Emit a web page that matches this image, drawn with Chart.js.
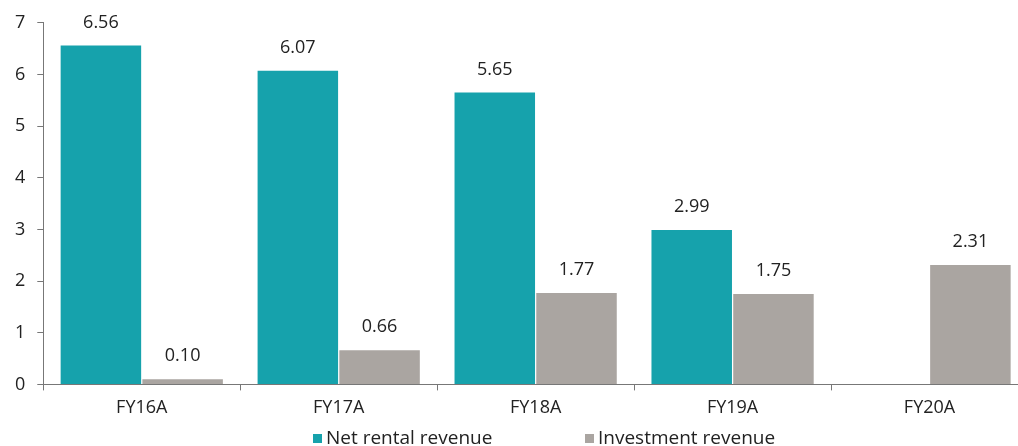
<!DOCTYPE html>
<html><head><meta charset="utf-8">
<script src="https://cdn.jsdelivr.net/npm/chart.js@4.4.0/dist/chart.umd.min.js"></script>
<style>html,body{margin:0;padding:0;background:#fff}#w{width:1018px;height:446px}</style>
</head><body><div id="w"><canvas id="c"></canvas></div>
<script>
const categories = ["FY16A","FY17A","FY18A","FY19A","FY20A"];
const seriesNames = ["Net rental revenue", "Investment revenue"];
const netRental = [6.56, 6.07, 5.65, 2.99, null];
const investment = [0.10, 0.66, 1.77, 1.75, 2.31];
const yTicks = [0,1,2,3,4,5,6,7];
const colors = ["#16A2AC", "#AAA5A1"];

const FONT = "'Open Sans', sans-serif";
const labelPlugin = {
  id: 'vals',
  afterDatasetsDraw(chart) {
    const ctx = chart.ctx;
    ctx.save();
    ctx.font = "18px " + FONT;
    ctx.fillStyle = "#222";
    ctx.textAlign = "center";
    ctx.textBaseline = "middle";
    chart.data.datasets.forEach((ds, i) => {
      chart.getDatasetMeta(i).data.forEach((bar, j) => {
        const v = ds.data[j];
        if (v === null || v === undefined) return;
        ctx.fillText(v.toFixed(2), bar.x, bar.y - 23);
      });
    });
    ctx.restore();
  }
};
const legendPlugin = {
  id: 'customLegend',
  afterDraw(chart) {
    const ctx = chart.ctx;
    const items = [{bx: 313, tx: 326}, {bx: 585, tx: 598}];
    ctx.save();
    ctx.font = "19px " + FONT;
    ctx.textBaseline = "middle";
    ctx.textAlign = "left";
    chart.data.datasets.forEach((ds, i) => {
      ctx.fillStyle = ds.backgroundColor;
      ctx.fillRect(items[i].bx, 434, 9, 9);
      ctx.fillStyle = "#222";
      ctx.fillText(ds.label, items[i].tx, 439);
    });
    ctx.restore();
  }
};
// The plot area of the original runs past the right edge of the picture (cropped).
const extendPlugin = {
  id: 'extendRight',
  afterLayout(chart) {
    const x = chart.scales.x;
    const target = 1028;
    const extra = target - x.right;
    x.right += extra; x.width += extra;
    chart.chartArea.right += extra; chart.chartArea.width += extra;
    x.configure();
  }
};

new Chart(document.getElementById('c'), {
  type: 'bar',
  data: {
    labels: categories,
    datasets: [
      {label: seriesNames[0], data: netRental, backgroundColor: colors[0], barPercentage: 0.985, categoryPercentage: 0.83},
      {label: seriesNames[1], data: investment, backgroundColor: colors[1], barPercentage: 0.985, categoryPercentage: 0.83}
    ]
  },
  options: {
    responsive: true, maintainAspectRatio: false, animation: false,
    layout: {padding: {top: 18, right: 0, left: 3, bottom: 20}},
    plugins: {
      tooltip: {enabled: false},
      legend: {display: false}
    },
    scales: {
      x: {
        grid: {display: true, offset: true, drawOnChartArea: false, drawTicks: true, tickLength: 6, color: "#777"},
        border: {display: true, color: "#777"},
        ticks: {color: "#222", font: {family: FONT, size: 18}, padding: 7}
      },
      y: {
        min: 0, max: 7,
        afterBuildTicks: (s) => { s.ticks = yTicks.map(v => ({value: v})); },
        grid: {display: true, drawOnChartArea: false, drawTicks: true, tickLength: 6, color: "#777"},
        border: {display: true, color: "#777"},
        ticks: {color: "#222", font: {family: FONT, size: 18}, padding: 12}
      }
    }
  },
  plugins: [extendPlugin, labelPlugin, legendPlugin]
});
</script></body></html>
